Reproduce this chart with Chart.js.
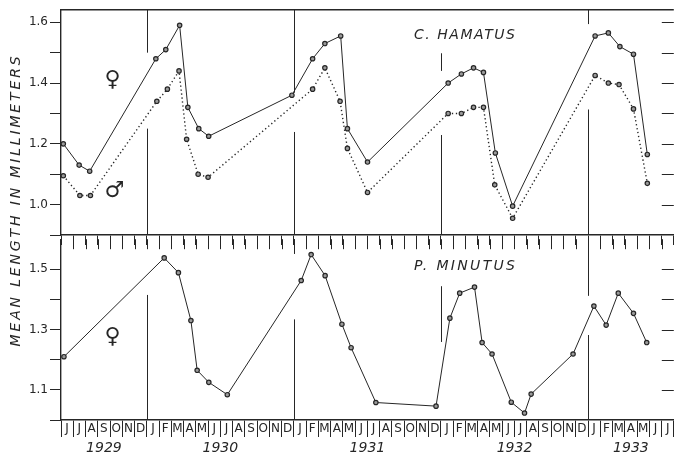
<!DOCTYPE html>
<html><head><meta charset="utf-8">
<script src="https://cdn.jsdelivr.net/npm/chart.js@4"></script>
<style>
html,body{margin:0;padding:0;background:#fff;}
#wrap{position:relative;width:679px;height:457px;overflow:hidden;background:#fff;}
canvas{position:absolute;left:0;}
#c1{top:0;width:679px;height:457px;}
#c2{top:230px;width:679px;height:227px;}
</style></head><body>
<div id="wrap"><canvas id="c1" width="679" height="457"></canvas><canvas id="c2" width="679" height="227"></canvas></div>
<script>
// ---- data (x = months since 1 June 1929) ----
const monthLabels = ['J','J','A','S','O','N','D',
  'J','F','M','A','M','J','J','A','S','O','N','D',
  'J','F','M','A','M','J','J','A','S','O','N','D',
  'J','F','M','A','M','J','J','A','S','O','N','D',
  'J','F','M','A','M','J','J'];
const yearLabels = ['1929','1930','1931','1932','1933'];
const monthsPerYear = [7,12,12,12,7];

const hamatusFemaleX = [0.19,1.48,2.34,7.74,8.55,9.68,10.35,11.24,12.05,18.84,20.53,21.53,22.82,23.37,25.01,31.59,32.67,33.66,34.47,35.44,36.85,43.58,44.66,45.6,46.71,47.84];
const hamatusFemaleY = [1.20,1.13,1.11,1.48,1.51,1.59,1.32,1.25,1.225,1.36,1.48,1.53,1.555,1.25,1.14,1.40,1.43,1.45,1.435,1.17,0.995,1.555,1.565,1.52,1.495,1.165];
const hamatusMaleX = [0.19,1.54,2.4,7.82,8.68,9.63,10.25,11.19,12.0,20.53,21.53,22.77,23.37,25.01,31.59,32.67,33.66,34.47,35.39,36.85,43.58,44.66,45.53,46.71,47.84];
const hamatusMaleY = [1.095,1.03,1.03,1.34,1.38,1.44,1.215,1.10,1.09,1.38,1.45,1.34,1.185,1.04,1.30,1.30,1.32,1.32,1.065,0.955,1.425,1.40,1.395,1.315,1.07];
const minutusFemaleX = [0.24,8.42,9.58,10.6,11.11,12.06,13.57,19.6,20.41,21.55,22.92,23.67,25.69,30.6,31.73,32.53,33.74,34.36,35.17,36.74,37.82,38.36,41.78,43.48,44.48,45.47,46.71,47.79];
const minutusFemaleY = [1.21,1.538,1.489,1.33,1.165,1.125,1.084,1.463,1.549,1.479,1.318,1.24,1.058,1.046,1.338,1.421,1.441,1.257,1.219,1.059,1.023,1.086,1.219,1.378,1.315,1.421,1.354,1.257];

const topTicks = [0.9,1.0,1.1,1.2,1.3,1.4,1.5,1.6];
const topLabeled = [1.0,1.2,1.4,1.6];
const botTicks = [1.0,1.1,1.2,1.3,1.4,1.5];
const botLabeled = [1.1,1.3,1.5];

// ---- styling ----
const INK = '#262626';
const FONT = 'DejaVu Sans';
const pts = (xs, ys) => xs.map((x, i) => ({x, y: ys[i]}));

function yearStarts() {
  const s = [0];
  monthsPerYear.forEach(n => s.push(s[s.length - 1] + n));
  return s;
}

function fitText(ctx, text, font, width) {
  ctx.font = font;
  ctx.letterSpacing = '0px';
  const w0 = ctx.measureText(text).width;
  const sp = (width - w0) / (text.length - 1);
  ctx.letterSpacing = sp.toFixed(2) + 'px';
}

function panelPlugin(cfg) {
  return {
    id: 'panel_' + cfg.name,
    afterDraw(chart) {
      const {ctx, chartArea: a, scales} = chart;
      const xs = scales.x, ys = scales.y;
      ctx.save();
      ctx.strokeStyle = INK;
      ctx.lineWidth = 1;
      if (cfg.topBorder) {
        ctx.beginPath();
        ctx.lineWidth = 1.6;
        ctx.moveTo(a.left, a.top + 0.5); ctx.lineTo(a.right, a.top + 0.5);
        ctx.stroke();
        ctx.lineWidth = 1;
      }
      // month ticks hanging below the panel divider
      if (cfg.dividerTicks) {
        ctx.beginPath();
        for (let m = 1; m < monthLabels.length; m++) {
          const px = Math.round(xs.getPixelForValue(m)) + 0.5;
          ctx.moveTo(px, a.top); ctx.lineTo(px, a.top + 10);
        }
        ctx.stroke();
      }
      // broken year boundary lines
      const ys0 = yearStarts();
      cfg.yearGaps.forEach((segs, i) => {
        const px = Math.round(xs.getPixelForValue(ys0[i + 1])) + 0.5;
        segs.forEach(([v1, v2]) => {
          ctx.beginPath();
          ctx.moveTo(px, ys.getPixelForValue(v1));
          ctx.lineTo(px, ys.getPixelForValue(v2));
          ctx.stroke();
        });
      });
      // short inner ticks at right edge
      ctx.beginPath();
      cfg.rightTicks.forEach(v => {
        const py = Math.round(ys.getPixelForValue(v)) + 0.5;
        ctx.moveTo(a.right - 12, py); ctx.lineTo(a.right, py);
      });
      ctx.stroke();
      // species title
      ctx.fillStyle = INK;
      ctx.textBaseline = 'alphabetic';
      ctx.textAlign = 'left';
      fitText(ctx, cfg.title, 'italic 14px ' + FONT, 101);
      ctx.fillText(cfg.title, xs.getPixelForValue(28.8), a.top + cfg.titleDy);
      ctx.letterSpacing = '0px';
      // sex symbols
      ctx.font = '22px ' + FONT;
      ctx.textAlign = 'center';
      ctx.textBaseline = 'middle';
      cfg.symbols.forEach(([s, m, v]) => ctx.fillText(s, xs.getPixelForValue(m), ys.getPixelForValue(v)));
      if (cfg.years) {
        ctx.font = 'italic 14px ' + FONT;
        ctx.textBaseline = 'middle';
        for (let i = 0; i < yearLabels.length; i++) {
          const cx = xs.getPixelForValue((ys0[i] + ys0[i + 1]) / 2);
          ctx.fillText(yearLabels[i], cx, a.bottom + 28);
        }
      }
      if (cfg.yTitle) {
        const t = 'MEAN LENGTH IN MILLIMETERS';
        ctx.translate(16, 200);
        ctx.rotate(-Math.PI / 2);
        fitText(ctx, t, 'italic 14px ' + FONT, 290);
        ctx.textAlign = 'center';
        ctx.textBaseline = 'middle';
        ctx.fillText(t, 0, 0);
      }
      ctx.restore();
    }
  };
}

function makeChart(id, o) {
  return new Chart(document.getElementById(id), {
    type: 'line',
    data: {datasets: o.datasets},
    options: {
      responsive: false,
      animation: false,
      devicePixelRatio: 1,
      layout: {padding: {top: 5, right: 0, left: 0, bottom: o.padBottom}},
      plugins: {legend: {display: false}, tooltip: {enabled: false}},
      scales: {
        x: {type: 'linear', min: 0, max: 50, display: false},
        xm: {
          type: 'category', labels: monthLabels, position: 'bottom', offset: true,
          grid: {offset: true, drawOnChartArea: false, drawTicks: true, tickLength: o.xTickLen, color: INK, lineWidth: 1},
          border: {display: true, color: INK, width: 1.6},
          ticks: {display: true, autoSkip: false, maxRotation: 0, minRotation: 0, padding: -15,
                  color: o.showMonths ? INK : 'rgba(0,0,0,0)', font: {family: FONT, size: 12}},
          afterFit: s => { s.height = o.xHeight; }
        },
        y: {
          type: 'linear', min: o.yMin, max: o.yMax, position: 'left',
          afterBuildTicks: s => { s.ticks = o.yTicks.map(v => ({value: v})); },
          afterFit: s => { s.width = 61; },
          grid: {drawOnChartArea: false, tickLength: 11, color: INK, lineWidth: 1},
          border: {display: true, color: INK, width: 1.4},
          ticks: {padding: 2, color: INK, font: {family: FONT, size: 12},
                  callback: v => o.yLabeled.some(l => Math.abs(l - v) < 1e-6) ? v.toFixed(1) : ''}
        }
      }
    },
    plugins: [panelPlugin(o.panel)]
  });
}

const femaleStyle = {borderColor: INK, borderWidth: 1, pointRadius: 2.2, pointBorderWidth: 1.2,
  pointBorderColor: INK, pointBackgroundColor: '#9a9a9a', tension: 0, fill: false, xAxisID: 'x', yAxisID: 'y'};
const maleStyle = Object.assign({}, femaleStyle, {borderDash: [1.3, 2.7], borderWidth: 1.4});

makeChart('c1', {
  datasets: [
    Object.assign({label: '♀', data: pts(hamatusFemaleX, hamatusFemaleY)}, femaleStyle),
    Object.assign({label: '♂', data: pts(hamatusMaleX, hamatusMaleY)}, maleStyle)
  ],
  padBottom: 207, xHeight: 15, xTickLen: 10, showMonths: false,
  yMin: 0.9, yMax: 1.643, yTicks: topTicks, yLabeled: topLabeled,
  panel: {
    name: 'top', title: 'C. HAMATUS', titleDy: 30, topBorder: true, years: false, yTitle: true,
    dividerTicks: false,
    rightTicks: [1.0,1.1,1.2,1.3,1.4,1.5,1.6],
    yearGaps: [
      [[1.643, 1.50], [1.25, 0.9]],
      [[1.643, 1.368], [1.239, 0.9]],
      [[1.498, 1.44], [1.229, 0.9]],
      [[1.643, 1.594], [1.313, 0.9]]
    ],
    symbols: [['♀', 4.2, 1.41], ['♂', 4.35, 1.045]]
  }
});

makeChart('c2', {
  datasets: [
    Object.assign({label: '♀', data: pts(minutusFemaleX, minutusFemaleY)}, femaleStyle)
  ],
  padBottom: 0, xHeight: 37, xTickLen: 17, showMonths: true,
  yMin: 1.0, yMax: 1.6, yTicks: botTicks, yLabeled: botLabeled,
  panel: {
    name: 'bot', title: 'P. MINUTUS', titleDy: 31, topBorder: false, years: true, yTitle: false,
    dividerTicks: true,
    rightTicks: [1.1,1.2,1.3,1.4,1.5],
    yearGaps: [
      [[1.415, 1.0]],
      [[1.6, 1.551], [1.334, 1.0]],
      [[1.444, 1.259]],
      [[1.6, 1.412], [1.282, 1.0]]
    ],
    symbols: [['♀', 4.2, 1.275]]
  }
});
</script>
</body></html>
